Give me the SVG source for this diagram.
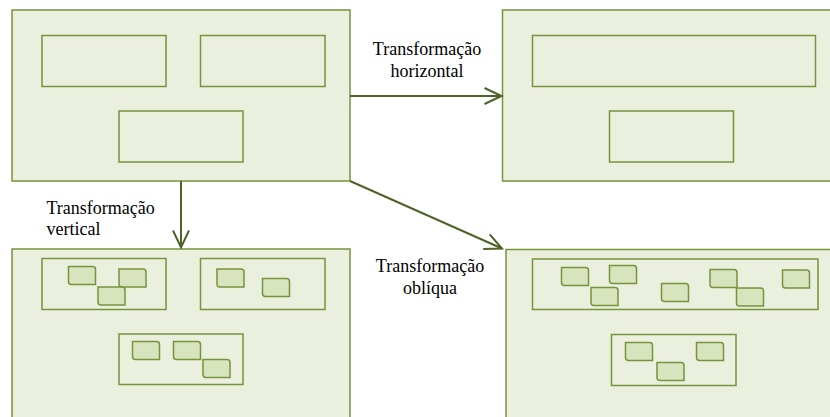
<svg xmlns="http://www.w3.org/2000/svg" xmlns:xlink="http://www.w3.org/1999/xlink" width="830" height="417" viewBox="0 0 830 417">
  <style>
    .frame { fill: #ebf0de; stroke: #77933c; stroke-width: 1.5; }
    .group { fill: #ebf0de; stroke: #77933c; stroke-width: 1.5; }
    .item { fill: #d7e4bd; stroke: #77933c; stroke-width: 1.5; }
    .link { fill: none; stroke: #4f6228; stroke-width: 2; }
    .label { font-family: "Liberation Serif", "Times New Roman", "DejaVu Serif", serif; font-size: 18px; fill: #000; }
  </style>
  <defs>
    <!-- open V arrowhead -->
    <marker id="arrow" viewBox="0 0 20 20" refX="18" refY="10" markerWidth="20" markerHeight="20" markerUnits="userSpaceOnUse" orient="auto">
      <path d="M1,2 L18,10 L1,18" fill="none" stroke="#4f6228" stroke-width="2"/>
    </marker>
    <!-- small element: rectangle with top-right and bottom-left corners clipped -->
    <path id="elem" class="item" d="M0,0 H24 Q27,0 27,3 V18 H3 Q0,18 0,15 Z"/>
  </defs>

  <!-- source layout -->
  <g id="source">
    <rect class="frame" x="12" y="10" width="338" height="171"/>
    <rect class="group" x="42" y="35.5" width="124" height="51"/>
    <rect class="group" x="200.5" y="35.5" width="124.5" height="51"/>
    <rect class="group" x="119" y="111" width="124" height="51"/>
  </g>

  <!-- horizontal transformation result -->
  <g id="horizontal">
    <rect class="frame" x="502.5" y="10" width="340" height="171"/>
    <rect class="group" x="532.5" y="35.5" width="283" height="51"/>
    <rect class="group" x="609.5" y="111" width="124" height="51"/>
  </g>

  <!-- vertical transformation result -->
  <g id="vertical">
    <rect class="frame" x="12" y="249" width="338" height="180"/>
    <rect class="group" x="42" y="258.5" width="124" height="51"/>
    <rect class="group" x="200.5" y="258.5" width="124.5" height="51"/>
    <rect class="group" x="119" y="334" width="124" height="50.5"/>
    <use xlink:href="#elem" x="68.5" y="266.5"/>
    <use xlink:href="#elem" x="119" y="269"/>
    <use xlink:href="#elem" x="98" y="287"/>
    <use xlink:href="#elem" x="217" y="269"/>
    <use xlink:href="#elem" x="262.5" y="278.5"/>
    <use xlink:href="#elem" x="132.5" y="341.5"/>
    <use xlink:href="#elem" x="173.5" y="341.5"/>
    <use xlink:href="#elem" x="203" y="359.5"/>
  </g>

  <!-- oblique transformation result -->
  <g id="oblique">
    <rect class="frame" x="506" y="249.5" width="340" height="180"/>
    <rect class="group" x="532.5" y="259" width="285.5" height="50.5"/>
    <rect class="group" x="611.5" y="334.5" width="124.5" height="51"/>
    <use xlink:href="#elem" x="561.5" y="267.5"/>
    <use xlink:href="#elem" x="609.5" y="265.5"/>
    <use xlink:href="#elem" x="591" y="287.5"/>
    <use xlink:href="#elem" x="661.5" y="283.5"/>
    <use xlink:href="#elem" x="710" y="269.5"/>
    <use xlink:href="#elem" x="736.5" y="288"/>
    <use xlink:href="#elem" x="782.5" y="270"/>
    <use xlink:href="#elem" x="625.5" y="342.5"/>
    <use xlink:href="#elem" x="696.5" y="342.5"/>
    <use xlink:href="#elem" x="657" y="362.5"/>
  </g>

  <!-- connectors -->
  <g id="connectors">
    <line class="link" x1="350" y1="96" x2="501.5" y2="96" marker-end="url(#arrow)"/>
    <line class="link" x1="181" y1="181" x2="181" y2="247.5" marker-end="url(#arrow)"/>
    <line class="link" x1="350" y1="181" x2="502" y2="248.5" marker-end="url(#arrow)"/>
  </g>

  <!-- connector labels -->
  <g id="labels">
    <text class="label" x="427" y="54.5" text-anchor="middle">Transformação</text>
    <text class="label" x="427" y="76.5" text-anchor="middle">horizontal</text>
    <text class="label" x="46.5" y="213.5">Transformação</text>
    <text class="label" x="46.5" y="235">vertical</text>
    <text class="label" x="430" y="272" text-anchor="middle">Transformação</text>
    <text class="label" x="430" y="294" text-anchor="middle">oblíqua</text>
  </g>
</svg>
